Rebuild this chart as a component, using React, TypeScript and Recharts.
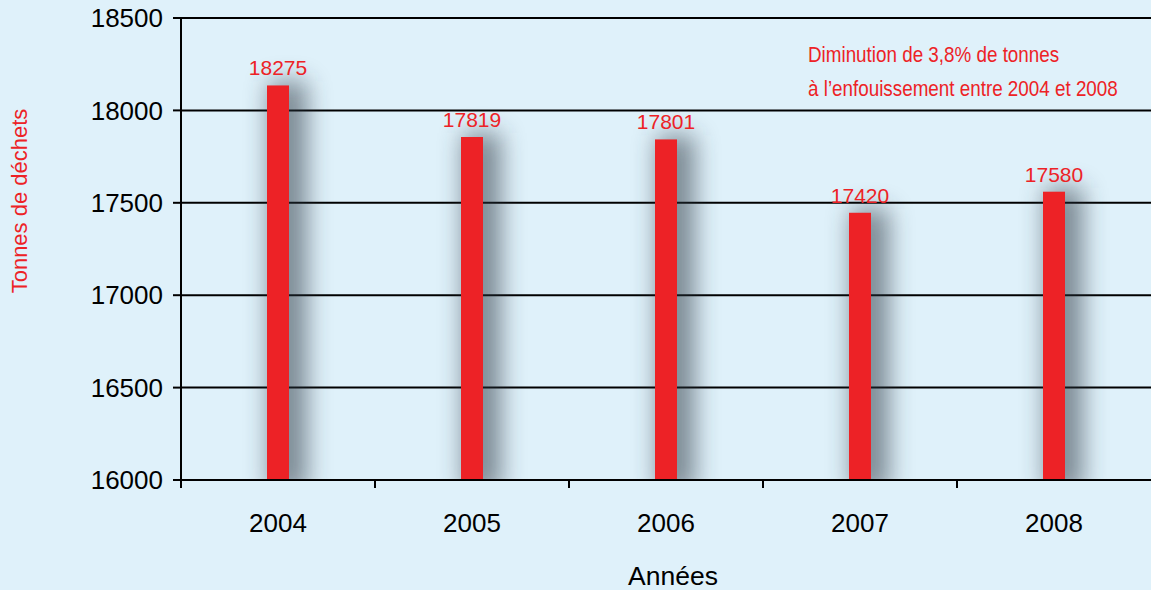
import React from 'react';
import { BarChart, Bar, XAxis, YAxis, CartesianGrid, LabelList } from 'recharts';

const years = ['2004', '2005', '2006', '2007', '2008'];
const barValues = [18135, 17856, 17843, 17446, 17560];
const valueLabels = ['18275', '17819', '17801', '17420', '17580'];
const yTicks = [16000, 16500, 17000, 17500, 18000, 18500];
const yAxisTitle = 'Tonnes de déchets';
const xAxisTitle = 'Années';
const noteLines = ['Diminution de 3,8% de tonnes', 'à l\u2019enfouissement entre 2004 et 2008'];

const data = years.map((year, i) => ({ year, value: barValues[i], label: valueLabels[i] }));

const W = 1151;
const H = 590;
const PLOT_LEFT = 181;
const BAND = (W - PLOT_LEFT) / years.length;
const RED = '#ed2226';
const BG = '#dff1fa';
const FONT = "'Liberation Sans', Arial, Helvetica, sans-serif";

const ShadowBar = (props: any) => {
  const { x, y, width, height, index } = props;
  const id = `barShadow${index}`;
  return (
    <g>
      <defs>
        <filter id={id} filterUnits="userSpaceOnUse" x={x - 80} y={y - 60} width={width + 180} height={height + 120}>
          <feGaussianBlur stdDeviation="12" />
        </filter>
      </defs>
      <rect x={x + 2} y={y - 4} width={width + 16} height={height + 16} fill="#2a3640" opacity={0.55} filter={`url(#${id})`} />
      <rect x={x} y={y} width={width} height={height} fill={RED} />
    </g>
  );
};

const XTick = (props: any) => {
  const { x, y, payload } = props;
  return (
    <g>
      <line x1={x - BAND / 2} x2={x - BAND / 2} y1={y - 8} y2={y} stroke="#000" strokeWidth={2} />
      <text x={x} y={y + 35} textAnchor="middle" dominantBaseline="central" fontSize={26} fill="#000" fontFamily={FONT}>
        {payload.value}
      </text>
    </g>
  );
};

const YTitle = () => (
  <text x={19} y={201} transform="rotate(-90 19 201)" textAnchor="middle" dominantBaseline="central" fontSize={22} fill={RED} fontFamily={FONT}>
    {yAxisTitle}
  </text>
);

const XTitle = () => (
  <text x={673} y={576} textAnchor="middle" dominantBaseline="central" fontSize={26.5} fill="#000" fontFamily={FONT}>
    {xAxisTitle}
  </text>
);

export default function App() {
  return (
    <div style={{ position: 'fixed', left: 0, top: 0, width: W, height: H, background: BG, overflow: 'hidden' }}>
      <BarChart width={W} height={H} data={data} margin={{ top: 18, right: 0, left: 0, bottom: 50 }} barSize={22}>
        <CartesianGrid horizontal vertical={false} stroke="#000" strokeWidth={2} />
        <XAxis
          dataKey="year"
          height={60}
          interval={0}
          axisLine={{ stroke: '#000', strokeWidth: 2 }}
          tickLine={false}
          tickSize={8}
          tickMargin={0}
          tick={<XTick />}
          label={<XTitle />}
        />
        <YAxis
          width={PLOT_LEFT}
          domain={[16000, 18500]}
          ticks={yTicks}
          allowDataOverflow
          axisLine={{ stroke: '#000', strokeWidth: 2 }}
          tickLine={{ stroke: '#000', strokeWidth: 2 }}
          tickSize={8}
          tickMargin={10}
          tick={{ fontSize: 26, fill: '#000', fontFamily: FONT }}
          label={<YTitle />}
        />
        <Bar dataKey="value" shape={<ShadowBar />} isAnimationActive={false}>
          <LabelList dataKey="label" position="top" offset={10} fill={RED} fontSize={21} fontFamily={FONT} />
        </Bar>
      </BarChart>
      <svg width={W} height={H} style={{ position: 'absolute', left: 0, top: 0, pointerEvents: 'none' }}>
        <g transform="translate(808,0) scale(0.856,1)">
          {noteLines.map((t, i) => (
            <text key={i} x={0} y={62 + i * 34} fontSize={22} fill={RED} fontFamily={FONT}>
              {t}
            </text>
          ))}
        </g>
      </svg>
    </div>
  );
}
